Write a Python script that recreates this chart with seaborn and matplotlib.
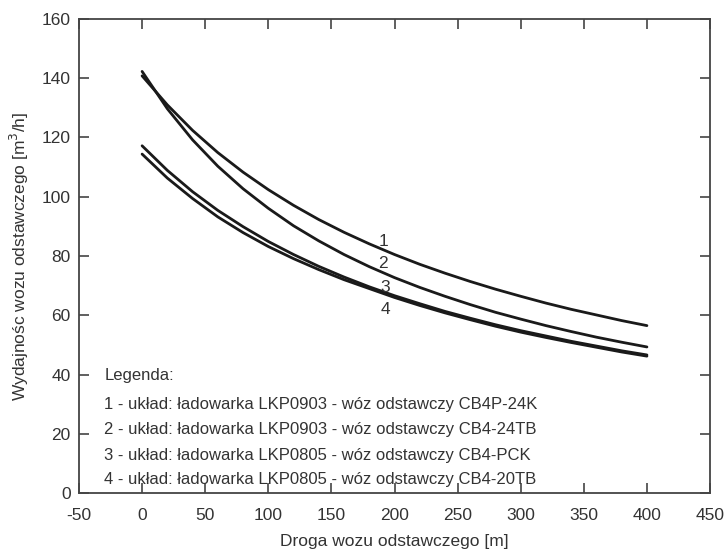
import pandas as pd
import seaborn as sns
import matplotlib.pyplot as plt

# droga wozu odstawczego [m]
droga = [0, 20, 40, 60, 80, 100, 120, 140, 160, 180, 200,
         220, 240, 260, 280, 300, 320, 340, 360, 380, 400]

# wydajnosc [m3/h] for each uklad
uklad_1 = [140.8, 131.0, 122.4, 114.9, 108.3, 102.4, 97.1, 92.3, 88.0, 84.1, 80.5,
           77.2, 74.2, 71.4, 68.8, 66.4, 64.1, 62.0, 60.1, 58.2, 56.5]
uklad_2 = [142.3, 129.7, 119.2, 110.3, 102.7, 96.1, 90.2, 85.1, 80.5, 76.4, 72.7,
           69.4, 66.4, 63.6, 61.0, 58.7, 56.5, 54.5, 52.6, 50.9, 49.3]
uklad_3 = [117.2, 108.9, 101.7, 95.4, 89.9, 84.9, 80.5, 76.5, 72.9, 69.6, 66.6,
           63.9, 61.3, 59.0, 56.8, 54.8, 53.0, 51.2, 49.6, 48.0, 46.6]
uklad_4 = [114.4, 106.3, 99.4, 93.2, 87.9, 83.2, 79.1, 75.4, 72.0, 69.0, 66.0,
           63.3, 60.8, 58.5, 56.3, 54.3, 52.5, 50.8, 49.2, 47.6, 46.2]

curve_ids = ['1', '2', '3', '4']
label_x = [191, 191, 192.5, 192.5]
label_y = [85, 77.6, 69.5, 62]

legend_lines = [
    'Legenda:',
    '1 - układ: ładowarka LKP0903 - wóz odstawczy CB4P-24K',
    '2 - układ: ładowarka LKP0903 - wóz odstawczy CB4-24TB',
    '3 - układ: ładowarka LKP0805 - wóz odstawczy CB4-PCK',
    '4 - układ: ładowarka LKP0805 - wóz odstawczy CB4-20TB',
]
legend_y = [39.8, 30.0, 21.6, 12.8, 4.7]

frames = []
for cid, vals in zip(curve_ids, [uklad_1, uklad_2, uklad_3, uklad_4]):
    frames.append(pd.DataFrame({'droga': droga, 'wydajnosc': vals, 'uklad': cid}))
df = pd.concat(frames, ignore_index=True)

sns.set_style('ticks')
plt.rcParams['font.family'] = ['Liberation Sans', 'DejaVu Sans']
plt.rcParams['axes.unicode_minus'] = False
txt_color = '#333333'

fig = plt.figure(figsize=(7.26, 5.55), dpi=100)
ax = fig.add_axes([0.1088, 0.1117, 0.8692, 0.8541])

sns.lineplot(data=df, x='droga', y='wydajnosc', units='uklad', estimator=None,
             color='#1a1a1a', linewidth=2.0, ax=ax)

for cid, lx, ly in zip(curve_ids, label_x, label_y):
    ax.text(lx, ly, cid, fontsize=12.5, color=txt_color, ha='center', va='center')

for line, ly in zip(legend_lines, legend_y):
    ax.text(-30, ly, line, fontsize=12, color=txt_color, ha='left', va='center')

ax.set_xlim(-50, 450)
ax.set_ylim(0, 160)
ax.set_xticks(range(-50, 451, 50))
ax.set_yticks(range(0, 161, 20))
ax.tick_params(direction='in', top=True, right=True, length=7, width=1.2,
               color='#444444', labelsize=12.5, labelcolor=txt_color)
ax.tick_params(axis='x', pad=11)
ax.tick_params(axis='y', pad=6)
for sp in ax.spines.values():
    sp.set_color('#444444')
    sp.set_linewidth(1.3)

ax.set_xlabel('Droga wozu odstawczego [m]', fontsize=12.5, color=txt_color, labelpad=8)
ax.set_ylabel('Wydajnośc wozu odstawczego [m$^3$/h]', fontsize=12.5, color=txt_color, labelpad=8)

fig.savefig('out.png', dpi=100)
